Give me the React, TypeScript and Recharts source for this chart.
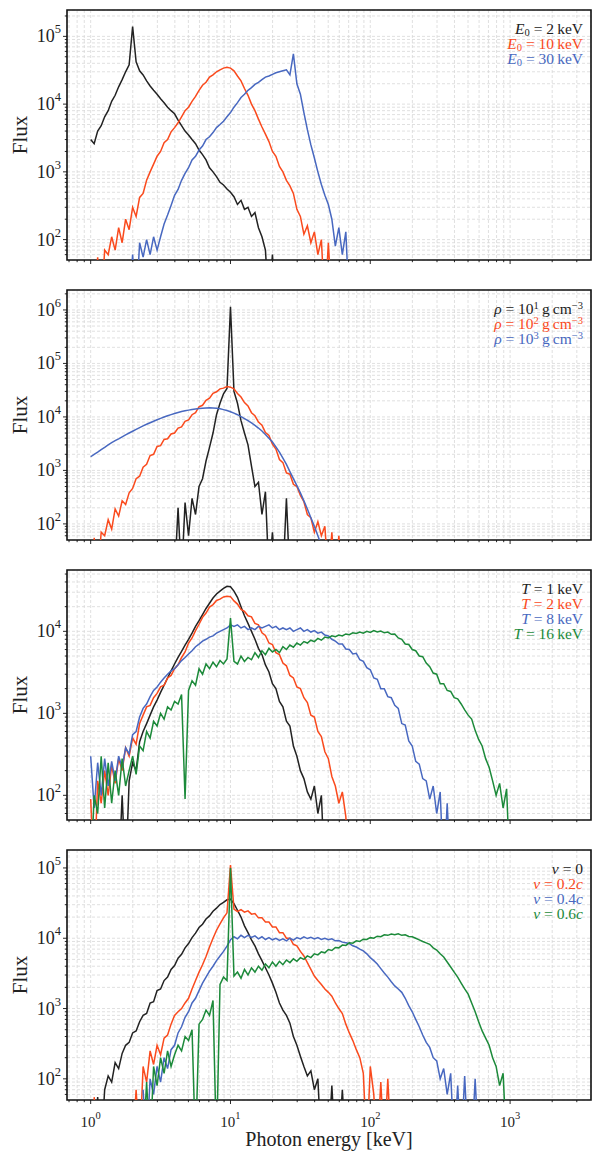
import React from 'react'
import { LineChart, Line, XAxis, YAxis, CartesianGrid, ReferenceArea } from 'recharts'

// photon energy bins [keV], 0.025 dex apart
const energyGrid = [
  1, 1.059, 1.122, 1.189, 1.259, 1.334, 1.413, 1.496, 1.585, 1.679, 1.778, 1.884, 1.995, 2.113, 2.239, 2.371, 2.512, 2.661, 2.818, 2.985,
  3.162, 3.35, 3.548, 3.758, 3.981, 4.217, 4.467, 4.732, 5.012, 5.309, 5.623, 5.957, 6.31, 6.683, 7.079, 7.499, 7.943, 8.414, 8.913, 9.441,
  10, 10.59, 11.22, 11.89, 12.59, 13.34, 14.13, 14.96, 15.85, 16.79, 17.78, 18.84, 19.95, 21.13, 22.39, 23.71, 25.12, 26.61, 28.18, 29.85,
  31.62, 33.5, 35.48, 37.58, 39.81, 42.17, 44.67, 47.32, 50.12, 53.09, 56.23, 59.57, 63.1, 66.83, 70.79, 74.99, 79.43, 84.14, 89.13, 94.41,
  100, 105.9, 112.2, 118.9, 125.9, 133.4, 141.3, 149.6, 158.5, 167.9, 177.8, 188.4, 199.5, 211.3, 223.9, 237.1, 251.2, 266.1, 281.8, 298.5,
  316.2, 335, 354.8, 375.8, 398.1, 421.7, 446.7, 473.2, 501.2, 530.9, 562.3, 595.7, 631, 668.3, 707.9, 749.9, 794.3, 841.4, 891.3, 944.1,
  1000,
]

// panel 1: line energy E0 (first bin index + flux per bin)
const e0Labels = ['2', '10', '30']
const e0Start = [0, 1, 11]
const e0Flux2 = [
  3000, 2600, 4000, 4800, 6500, 8000, 11000, 13500, 18000, 23000, 30000, 38000, 140000, 42000, 31000, 27000, 22000, 18500, 16000, 14000,
  12000, 10500, 9000, 8000, 7200, 5800, 4800, 4000, 3500, 3000, 2600, 2100, 1800, 1500, 1150, 1000, 850, 700, 640, 560,
  500, 430, 330, 380, 280, 300, 220, 250, 150, 110, 70, 10, 60, 10,
]
const e0Flux10 = [
  10, 55, 10, 70, 60, 110, 70, 150, 90, 200, 140, 300, 220, 420, 480, 750, 1000, 1300, 1700, 2000,
  2700, 3000, 3900, 4500, 5300, 6500, 8000, 9000, 11000, 13000, 16000, 19000, 21000, 25000, 27000, 30000, 32000, 34000, 35000, 34000,
  31000, 26000, 22000, 17000, 13500, 10000, 8000, 6000, 4600, 3600, 2800, 2000, 1700, 1200, 1000, 750, 620, 480, 280, 220,
  120, 160, 90, 130, 60, 100, 10, 90, 10,
]
const e0Flux30 = [
  10, 60, 10, 90, 55, 100, 60, 110, 70, 110, 170, 230, 320, 450, 550, 750, 950, 1150, 1500, 1700,
  2100, 2400, 3000, 3300, 3800, 4500, 5000, 5600, 6500, 7500, 9000, 10500, 12500, 14000, 16000, 17500, 19500, 21000, 23000, 25000,
  26000, 27500, 29000, 30000, 31000, 32000, 27000, 55000, 20000, 14000, 7500, 4200, 2500, 1600, 1000, 650, 450, 330, 200, 80,
  150, 60, 130, 10,
]

// panel 2: density rho
const rhoExponents = ['1', '2', '3']
const rhoStart = [24, 1, 0]
const rhoFlux1 = [
  10, 200, 10, 250, 60, 300, 150, 500, 700, 1500, 2700, 5000, 11000, 18000, 27000, 34000, 1150000, 30000, 18000, 8500,
  5000, 3000, 1200, 500, 600, 150, 400, 10, 70, 10, 10, 10, 300, 10,
]
const rhoFlux2 = [
  55, 10, 70, 60, 120, 80, 190, 140, 270, 230, 380, 460, 700, 780, 1150, 1300, 1900, 2000, 2800, 2900,
  3800, 3900, 4800, 5000, 6200, 6500, 8300, 8800, 11000, 12000, 15500, 16500, 20500, 22500, 27500, 29500, 33500, 34500, 37000, 36000,
  33500, 27500, 23500, 18500, 16000, 12000, 10500, 8000, 7000, 5100, 4500, 3100, 2500, 1600, 1400, 900, 850, 550, 500, 340,
  260, 150, 130, 70, 110, 60, 90, 10, 70, 10, 60, 10,
]
const rhoFlux3 = [
  1800, 2000, 2200, 2450, 2700, 3000, 3300, 3600, 3900, 4250, 4600, 5000, 5400, 5850, 6300, 6800, 7300, 7800, 8300, 8850,
  9400, 9950, 10500, 11050, 11600, 12100, 12600, 13000, 13400, 13750, 14100, 14350, 14600, 14750, 14800, 14700, 14500, 14150, 13700, 13150,
  12500, 11800, 11000, 10150, 9300, 8500, 7700, 6950, 6200, 5450, 4700, 4000, 3400, 2750, 2200, 1700, 1300, 950, 700, 520,
  380, 270, 190, 130, 90, 60, 40,
]

// panel 3: temperature T
const tempLabels = ['1', '2', '8', '16']
const tempStart = [8, 0, 0, 0]
const tempFlux1 = [
  10, 100, 10, 150, 250, 200, 450, 600, 750, 950, 1200, 1450, 1800, 2200, 2700, 3300, 4000, 4800, 5700, 6800,
  8000, 9500, 11500, 13500, 16000, 19000, 22000, 25500, 28500, 31000, 33500, 35500, 35000, 31000, 26000, 20000, 15500, 12500, 10000, 8000,
  6200, 5200, 3900, 3200, 2300, 2000, 1400, 1200, 800, 700, 400, 300, 200, 160, 110, 90, 130, 60, 100, 10,
]
const tempFlux2 = [
  90, 10, 150, 80, 200, 100, 230, 140, 280, 200, 380, 300, 500, 420, 750, 950, 1200, 1250, 1550, 1750,
  2100, 2200, 2700, 2900, 3500, 3900, 4800, 5600, 7200, 8300, 10200, 12200, 14800, 16700, 19800, 21200, 23800, 24700, 26300, 26800,
  26500, 23500, 21500, 18500, 17500, 15500, 15000, 12500, 12000, 9600, 8900, 7200, 6900, 5500, 5200, 4100, 3800, 2900, 2700, 2100,
  2000, 1550, 1350, 950, 900, 600, 520, 340, 280, 170, 130, 80, 110, 55, 10,
]
const tempFlux8 = [
  300, 70, 250, 100, 280, 130, 260, 150, 300, 220, 380, 320, 550, 600, 900, 1150, 1300, 1600, 1900, 2100,
  2400, 2700, 3000, 3300, 3500, 3900, 4400, 4800, 5300, 5800, 6500, 7000, 7600, 8000, 8500, 8800, 9500, 10000, 10500, 11000,
  12000, 11500, 12000, 11000, 11500, 10500, 11000, 10500, 11500, 11000, 11500, 12000, 11000, 11500, 10500, 11000, 10500, 11000, 10000, 10500,
  11000, 10000, 10500, 9800, 10200, 9500, 9800, 9000, 8800, 8000, 7600, 7000, 7000, 6100, 6000, 5300, 5400, 4500, 4300, 3600,
  3400, 2700, 2600, 2000, 2000, 1600, 1550, 1250, 1150, 750, 720, 460, 400, 260, 240, 160, 150, 90, 130, 60,
  110, 10, 80, 10,
]
const tempFlux16 = [
  10, 100, 60, 300, 70, 250, 80, 200, 100, 280, 130, 200, 300, 180, 400, 350, 600, 500, 800, 700,
  1000, 850, 1200, 1100, 1400, 1300, 1700, 90, 1900, 2500, 2200, 3500, 3000, 4000, 3500, 4200, 3700, 4400, 4000, 4600,
  14500, 4300, 4000, 5000, 4300, 4800, 4500, 5500, 4800, 5800, 5200, 6200, 5600, 6000, 5500, 6500, 6000, 6800, 6400, 7200,
  6800, 7500, 7200, 7800, 7500, 8200, 7800, 8500, 8300, 8800, 8600, 9000, 8800, 9300, 9100, 9600, 9400, 9800, 9500, 10000,
  9700, 10200, 9800, 10100, 9600, 9800, 9200, 9300, 8300, 8000, 7000, 6900, 6000, 5800, 5000, 4900, 4100, 3700, 3100, 3000,
  2300, 2300, 1900, 1850, 1550, 1500, 1300, 1100, 950, 850, 620, 480, 400, 280, 220, 150, 100, 140, 70, 120,
  10,
]

// panel 4: bulk velocity v
const velLabels = ['0', '0.2', '0.4', '0.6']
const velStart = [1, 1, 15, 15]
const velFlux0 = [
  10, 55, 10, 70, 110, 90, 170, 140, 230, 300, 330, 450, 480, 650, 800, 850, 1200, 1250, 1800, 1900,
  2500, 2800, 3600, 4100, 5200, 5900, 7300, 8400, 10200, 11800, 14200, 15800, 18800, 20800, 24200, 26800, 30200, 32300, 35200, 36000,
  31000, 25000, 20000, 15000, 12000, 9500, 7800, 6000, 4800, 3800, 3000, 2300, 1700, 1200, 950, 800, 620, 400, 300, 210,
  150, 110, 130, 70, 100, 10, 10, 10, 80, 10, 10, 70, 10,
]
const velFlux02 = [
  55, 10, 10, 10, 10, 10, 10, 10, 10, 10, 10, 10, 70, 10, 150, 90, 250, 160, 300, 220,
  380, 420, 600, 800, 900, 1000, 1200, 1400, 1900, 2500, 3300, 4200, 5500, 7500, 10000, 13000, 16000, 19500, 23000, 110000,
  26000, 24000, 25500, 23500, 24500, 22000, 22500, 19500, 19500, 17000, 17000, 14500, 14500, 12000, 12000, 10000, 10000, 8200, 7800, 6500,
  5600, 4500, 3600, 2900, 2500, 2200, 1900, 1700, 1500, 1200, 1000, 850, 600, 450, 350, 260, 200, 120, 10, 150,
  60, 10, 90, 10, 100, 10,
]
const velFlux04 = [
  70, 10, 100, 60, 150, 90, 200, 140, 260, 300, 450, 550, 750, 900, 1200, 1400, 1800, 2300, 2800, 3400,
  4000, 4800, 5600, 6500, 7700, 9500, 10500, 9800, 11000, 10200, 11000, 10300, 10800, 9800, 10500, 9600, 10200, 9500, 10000, 9300,
  9800, 9200, 10000, 9400, 10200, 9800, 10500, 9900, 10300, 9800, 10200, 9600, 10000, 9500, 9800, 9200, 9300, 8800, 8600, 8400,
  7800, 7500, 7000, 6600, 6000, 5300, 4800, 4300, 3700, 3200, 2800, 2400, 2100, 1900, 1700, 1400, 1100, 900, 700, 550,
  420, 330, 280, 200, 180, 100, 140, 60, 120, 10, 80, 10, 110, 10, 10, 100, 10,
]
const velFlux06 = [
  10, 90, 10, 150, 80, 200, 120, 250, 150, 220, 300, 250, 400, 350, 500, 10, 600, 700, 950, 800,
  1300, 10, 2200, 2800, 2500, 100000, 2900, 3300, 2700, 3600, 3000, 3800, 3300, 4000, 3500, 4300, 3800, 4600, 4000, 4700,
  4200, 4900, 4500, 5100, 4700, 5300, 5000, 5600, 5300, 6000, 5800, 6400, 6200, 6900, 6700, 7400, 7300, 8000, 7900, 8600,
  8500, 9200, 9000, 9700, 9600, 10200, 10000, 10700, 10500, 11200, 11000, 11500, 11200, 11600, 11000, 11200, 10600, 10500, 10000, 9500,
  9000, 8600, 8200, 7300, 6800, 6000, 5400, 4600, 3900, 3300, 2800, 2300, 1900, 1600, 1200, 900, 650, 480, 380, 300,
  200, 150, 80, 120, 10, 10,
]

const xTicks = [0.7, 0.8, 0.9, 1, 2, 3, 4, 5, 6, 7, 8, 9, 10, 20, 30, 40, 50, 60, 70, 80, 90, 100, 200, 300, 400, 500, 600, 700, 800, 900, 1000, 2000, 3000]
const xDomain: [number, number] = [0.677, 3790]

const COLORS = ['#222222', '#fa4a1d', '#4868c0', '#1c8a3a']
const FONT = 'Liberation Serif, DejaVu Serif, serif'

function toData(start: number, flux: number[]) {
  return flux.map((f, i) => ({ e: energyGrid[start + i], f }))
}

function decadeTicks(lo: number, hi: number) {
  const out: number[] = []
  for (let d = 1; d <= 7; d++) {
    for (let m = 1; m <= 9; m++) {
      const v = m * 10 ** d
      if (v > lo && v <= hi) out.push(v)
    }
  }
  return out
}

function isDecade(v: number) {
  const l = Math.log10(v)
  return Math.abs(l - Math.round(l)) < 1e-6
}

function XTick({ x, y, payload, showLabel }: any) {
  const v = payload.value
  const major = isDecade(v)
  return (
    <g>
      <line x1={x} x2={x} y1={y} y2={y + (major ? 4 : 2.2)} stroke="#111" strokeWidth={0.9} />
      {major && showLabel && (
        <text x={x} y={y + 27} textAnchor="middle" style={{ fontFamily: FONT }} fontSize={15} fill="#222">
          10<tspan dy={-8} fontSize={10.5}>{Math.round(Math.log10(v))}</tspan>
        </text>
      )}
    </g>
  )
}

function YTick({ x, y, payload }: any) {
  const v = payload.value
  const major = isDecade(v)
  return (
    <g>
      <line x1={x - (major ? 4 : 2.2)} x2={x} y1={y} y2={y} stroke="#111" strokeWidth={0.9} />
      {major && (
        <text x={x - 6} y={y + 6} textAnchor="end" style={{ fontFamily: FONT }} fontSize={18} fill="#222">
          10<tspan dy={-9} fontSize={12.5}>{Math.round(Math.log10(v))}</tspan>
        </text>
      )}
    </g>
  )
}

function FluxLabel({ viewBox }: any) {
  const cx = 20
  const cy = viewBox ? viewBox.y + viewBox.height / 2 : 135
  return (
    <text x={cx} y={cy} transform={`rotate(-90 ${cx} ${cy})`} textAnchor="middle" dominantBaseline="central"
      style={{ fontFamily: FONT }} fontSize={21} fill="#222">
      Flux
    </text>
  )
}

function EnergyLabel({ viewBox }: any) {
  const cx = viewBox ? viewBox.x + viewBox.width / 2 : 329
  const y = viewBox ? viewBox.y + 46 : 1146
  return (
    <text x={cx} y={y} textAnchor="middle" style={{ fontFamily: FONT }} fontSize={20} fill="#222">
      Photon energy [keV]
    </text>
  )
}

const subStyle: React.CSSProperties = { fontSize: '0.68em', position: 'relative', top: '0.2em', lineHeight: 0 }
const supStyle: React.CSSProperties = { fontSize: '0.68em', position: 'relative', top: '-0.45em', lineHeight: 0 }

interface Series {
  start: number
  flux: number[]
  color: string
}

interface PanelProps {
  top: number
  height: number
  axisHeight: number
  yDomain: [number, number]
  series: Series[]
  legend: React.ReactNode[]
  showXLabels: boolean
}

function Panel({ top, height, axisHeight, yDomain, series, legend, showXLabels }: PanelProps) {
  const yTicks = decadeTicks(yDomain[0], yDomain[1])
  return (
    <div style={{ position: 'absolute', left: 0, top, width: 592, height }}>
      <LineChart width={592} height={height} margin={{ top: 10, right: 1, bottom: 0, left: 0 }}>
        <CartesianGrid stroke="#d8d8d8" strokeDasharray="3 2" strokeWidth={0.8} />
        <XAxis
          type="number"
          dataKey="e"
          scale="log"
          domain={xDomain}
          allowDataOverflow
          ticks={xTicks}
          interval={0}
          height={axisHeight}
          axisLine={false}
          tickLine={false}
          tickSize={0}
          tickMargin={0}
          tick={(p: any) => <XTick {...p} showLabel={showXLabels} />}
          label={showXLabels ? <EnergyLabel /> : undefined}
        />
        <YAxis
          type="number"
          scale="log"
          domain={yDomain}
          allowDataOverflow
          ticks={yTicks}
          interval={0}
          width={67}
          axisLine={false}
          tickLine={false}
          tickSize={0}
          tickMargin={0}
          tick={(p: any) => <YTick {...p} />}
          label={<FluxLabel />}
        />
        {series.map((s, i) => (
          <Line
            key={i}
            data={toData(s.start, s.flux)}
            dataKey="f"
            type="linear"
            stroke={s.color}
            strokeWidth={1.5}
            dot={false}
            activeDot={false}
            isAnimationActive={false}
          />
        ))}
        <ReferenceArea
          x1={xDomain[0]}
          x2={xDomain[1]}
          y1={yDomain[0]}
          y2={yDomain[1]}
          fill="none"
          fillOpacity={0}
          stroke="#111"
          strokeWidth={1.6}
          ifOverflow="visible"
        />
      </LineChart>
      <div
        style={{
          position: 'absolute',
          right: 9,
          top: 21,
          textAlign: 'right',
          fontFamily: FONT,
          fontSize: 15.5,
          lineHeight: '15px',
          whiteSpace: 'nowrap',
        }}
      >
        {legend.map((node, i) => (
          <div key={i} style={{ color: COLORS[i], height: 15 }}>{node}</div>
        ))}
      </div>
    </div>
  )
}

export default function App() {
  const e0Flux = [e0Flux2, e0Flux10, e0Flux30]
  const rhoFlux = [rhoFlux1, rhoFlux2, rhoFlux3]
  const tempFlux = [tempFlux1, tempFlux2, tempFlux8, tempFlux16]
  const velFlux = [velFlux0, velFlux02, velFlux04, velFlux06]

  return (
    <div style={{ position: 'absolute', left: 0, top: 0, width: 592, height: 1151, background: '#fff', fontFamily: FONT }}>
      <Panel
        top={0}
        height={280}
        axisHeight={20}
        yDomain={[50, 245000]}
        showXLabels={false}
        series={e0Flux.map((flux, i) => ({ start: e0Start[i], flux, color: COLORS[i] }))}
        legend={e0Labels.map((v) => (
          <>
            <i>E</i><span style={subStyle}>0</span> = {v}&#8201;keV
          </>
        ))}
      />
      <Panel
        top={280}
        height={280}
        axisHeight={20}
        yDomain={[50, 2360000]}
        showXLabels={false}
        series={rhoFlux.map((flux, i) => ({ start: rhoStart[i], flux, color: COLORS[i] }))}
        legend={rhoExponents.map((v) => (
          <>
            <i>ρ</i> = 10<span style={supStyle}>{v}</span>&#8201;g&#8201;cm<span style={supStyle}>−3</span>
          </>
        ))}
      />
      <Panel
        top={560}
        height={280}
        axisHeight={20}
        yDomain={[50, 56000]}
        showXLabels={false}
        series={tempFlux.map((flux, i) => ({ start: tempStart[i], flux, color: COLORS[i] }))}
        legend={tempLabels.map((v) => (
          <>
            <i>T</i> = {v}&#8201;keV
          </>
        ))}
      />
      <Panel
        top={840}
        height={311}
        axisHeight={51}
        yDomain={[50, 180000]}
        showXLabels={true}
        series={velFlux.map((flux, i) => ({ start: velStart[i], flux, color: COLORS[i] }))}
        legend={velLabels.map((v) => (
          <>
            <i>v</i> = {v}{v === '0' ? '' : <i>c</i>}
          </>
        ))}
      />
    </div>
  )
}
